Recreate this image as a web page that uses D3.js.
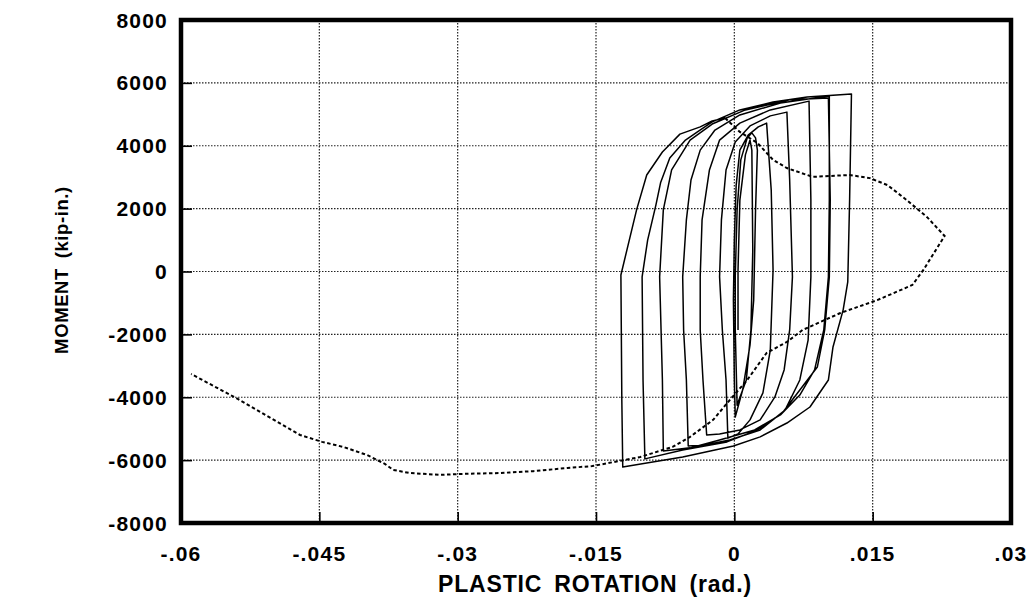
<!DOCTYPE html>
<html><head><meta charset="utf-8">
<script src="https://cdn.jsdelivr.net/npm/d3@7"></script>
<style>
html,body{margin:0;padding:0;background:#fff;}
text{font-family:"Liberation Sans",Arial,sans-serif;font-weight:bold;fill:#000;}
</style></head>
<body>
<svg id="chart" width="1031" height="603"></svg>
<script>
// ---- data ----
const xTicks = [-0.06, -0.045, -0.03, -0.015, 0, 0.015, 0.03];
const xTickLabels = ["-.06", "-.045", "-.03", "-.015", "0", ".015", ".03"];
const yTicks = [-8000, -6000, -4000, -2000, 0, 2000, 4000, 6000, 8000];
const yTickLabels = ["-8000", "-6000", "-4000", "-2000", "0", "2000", "4000", "6000", "8000"];
const xTitle = "PLASTIC ROTATION (rad.)";
const yTitle = "MOMENT (kip-in.)";

// cyclic hysteresis loops [plastic rotation (rad), moment (kip-in.)]
const cyclicRotation = [
  0.0004, 0.0004, 0.0006, 0.0012, 0.0017, 0.0019, 0.0020, 0.0018, 0.0013, 0.0003,
  0.0001, 0.0001, 0.0003, 0.0007, 0.0014, 0.0019, 0.0023, 0.0025, 0.0023, 0.0021,
  0.0017, 0.0009, 0.0001, 0.0000, -0.0001, 0.0000, 0.0002, 0.0006, 0.0015, 0.0026,
  0.0035, 0.0040, 0.0042, 0.0039, 0.0031, 0.0017, 0.0004, -0.0007, -0.0009, -0.0013,
  -0.0016, -0.0014, -0.0009, 0.0001, 0.0017, 0.0039, 0.0057, 0.0060, 0.0063, 0.0060,
  0.0054, 0.0044, 0.0028, 0.0006, -0.0016, -0.0030, -0.0034, -0.0037, -0.0037, -0.0035,
  -0.0027, -0.0016, 0.0006, 0.0039, 0.0081, 0.0083, 0.0083, 0.0080, 0.0071, 0.0055,
  0.0028, -0.0005, -0.0032, -0.0050, -0.0052, -0.0055, -0.0056, -0.0052, -0.0047, -0.0037,
  -0.0021, 0.0006, 0.0050, 0.0103, 0.0103, 0.0102, 0.0097, 0.0087, 0.0071, 0.0050,
  0.0022, -0.0016, -0.0048, -0.0077, -0.0078, -0.0081, -0.0077, -0.0068, -0.0048, -0.0024,
  0.0012, 0.0060, 0.0102, 0.0104, 0.0103, 0.0098, 0.0090, 0.0071, 0.0052, 0.0025,
  -0.0008, -0.0056, -0.0097, -0.0099, -0.0100, -0.0094, -0.0085, -0.0080, -0.0070, -0.0053,
  -0.0040, -0.0024, 0.0006, 0.0042, 0.0079, 0.0127, 0.0125, 0.0123, 0.0118, 0.0107,
  0.0102, 0.0082, 0.0057, 0.0028, -0.0001, -0.0056, -0.0121, -0.0122, -0.0123, -0.0106,
  -0.0095, -0.0078, -0.0059, -0.0037, -0.0024, -0.0010
];
const cyclicMoment = [
  -1860, 50, 2270, 3710, 4180, 3860, 680, -1860, -3450, -4250,
  -1860, -170, 1960, 3550, 4250, 4410, 4250, 3860, 1960, -910,
  -2340, -3770, -4630, -3450, -910, 1000, 2750, 3860, 4340, 4600,
  4720, 2590, 50, -2500, -3860, -4720, -5170, -5300, -3450, -1860,
  -170, 1640, 3230, 4120, 4630, 4950, 5070, 2910, -170, -1860,
  -3130, -3990, -4720, -5040, -5170, -5200, -3450, -1860, -170, 1640,
  3230, 4180, 4720, 5140, 5420, 2270, -170, -2180, -3450, -4410,
  -5040, -5360, -5520, -5550, -3450, -1860, -170, 1640, 2910, 3860,
  4500, 4980, 5360, 5580, 2270, -170, -1860, -3130, -3930, -4560,
  -5040, -5360, -5610, -5710, -3450, -170, 1960, 3230, 4180, 4690,
  5140, 5460, 5520, 2270, -170, -1860, -3040, -3770, -4500, -5040,
  -5420, -5680, -5960, -3450, -170, 1000, 2120, 2820, 3610, 4180,
  4440, 4760, 5140, 5390, 5550, 5650, 2270, -330, -1220, -2400,
  -3450, -4310, -4820, -5260, -5550, -5900, -6220, -4090, -110, 1960,
  3070, 3800, 4370, 4600, 4790, 4880
];

// post-fracture (dashed) response
const dashRotation = [
  -0.0010, 0.0006, 0.0025, 0.0042, 0.0057, 0.0085, 0.0125, 0.0147, 0.0166, 0.0187,
  0.0209, 0.0228, 0.0205, 0.0193, 0.0155, 0.0115, 0.0074, 0.0057, 0.0035, 0.0014,
  -0.0005, -0.0023, -0.0048, -0.0067, -0.0102, -0.0154, -0.0181, -0.0218, -0.0254, -0.0297,
  -0.0319, -0.0352, -0.0370, -0.0379, -0.0398, -0.0424, -0.0447, -0.0471, -0.0538, -0.0589
];
const dashMoment = [
  4880, 4440, 4090, 3550, 3290, 3010, 3070, 2970, 2750, 2270,
  1730, 1130, 50, -430, -910, -1320, -1860, -2240, -2590, -3450,
  -4090, -4720, -5260, -5580, -5900, -6190, -6250, -6350, -6410, -6440,
  -6470, -6410, -6310, -6120, -5840, -5580, -5420, -5200, -4060, -3260
];

// ---- drawing ----
const svg = d3.select("#chart");
const pL = 181, pR = 1011, pT = 20, pB = 523;
const x = d3.scaleLinear().domain([-0.06, 0.03]).range([pL, pR]);
const y = d3.scaleLinear().domain([-8000, 8000]).range([pB, pT]);

// gridlines (dotted)
const grid = svg.append("g");
grid.selectAll("line.gx").data(xTicks.slice(1, -1)).join("line").attr("class", "gx")
  .attr("x1", d => x(d)).attr("x2", d => x(d)).attr("y1", pT).attr("y2", pB)
  .attr("stroke", "#222").attr("stroke-width", 1.2).attr("stroke-dasharray", "1.5,1.5");
grid.selectAll("line.gy").data(yTicks.slice(1, -1)).join("line").attr("class", "gy")
  .attr("y1", d => y(d)).attr("y2", d => y(d)).attr("x1", pL).attr("x2", pR)
  .attr("stroke", "#222").attr("stroke-width", 1.2).attr("stroke-dasharray", "1.5,1.5");

// inner solid tick marks via axes
svg.append("g").attr("transform", `translate(0,${pB})`)
  .call(d3.axisTop(x).tickValues(xTicks.slice(1, -1)).tickSize(11).tickFormat(""))
  .call(g => g.select(".domain").remove())
  .call(g => g.selectAll("line").attr("stroke", "#000").attr("stroke-width", 1.6));
svg.append("g").attr("transform", `translate(${pL},0)`)
  .call(d3.axisRight(y).tickValues(yTicks.slice(1, -1)).tickSize(11).tickFormat(""))
  .call(g => g.select(".domain").remove())
  .call(g => g.selectAll("line").attr("stroke", "#000").attr("stroke-width", 1.6));

// tick labels
svg.append("g").selectAll("text").data(xTicks).join("text")
  .attr("x", d => x(d)).attr("y", 561)
  .attr("text-anchor", "middle").attr("font-size", 21).attr("letter-spacing", 1.2)
  .text((d, i) => xTickLabels[i]);
svg.append("g").selectAll("text").data(yTicks).join("text")
  .attr("x", 168).attr("y", d => y(d) + 7.5)
  .attr("text-anchor", "end").attr("font-size", 21).attr("letter-spacing", 1.2)
  .text((d, i) => yTickLabels[i]);

// axis titles
svg.append("text").attr("x", 595).attr("y", 592).attr("text-anchor", "middle")
  .attr("font-size", 23).attr("letter-spacing", 0.8).attr("word-spacing", 5).text(xTitle);
svg.append("text").attr("transform", "translate(68,270) rotate(-90)")
  .attr("text-anchor", "middle").attr("font-size", 18.5).attr("letter-spacing", 0.6)
  .attr("word-spacing", 4).text(yTitle);

// curves
const line = d3.line().x(d => x(d[0])).y(d => y(d[1]));
const cyclic = cyclicRotation.map((r, i) => [r, cyclicMoment[i]]);
const dashed = dashRotation.map((r, i) => [r, dashMoment[i]]);

svg.append("path").datum(cyclic).attr("d", line)
  .attr("fill", "none").attr("stroke", "#000").attr("stroke-width", 1.5)
  .attr("stroke-linejoin", "round");
svg.append("path").datum(dashed).attr("d", line)
  .attr("fill", "none").attr("stroke", "#000").attr("stroke-width", 2)
  .attr("stroke-dasharray", "3.5,2.5");

// frame
svg.append("rect").attr("x", pL).attr("y", pT)
  .attr("width", pR - pL).attr("height", pB - pT)
  .attr("fill", "none").attr("stroke", "#000").attr("stroke-width", 4.5);
</script>
</body></html>
